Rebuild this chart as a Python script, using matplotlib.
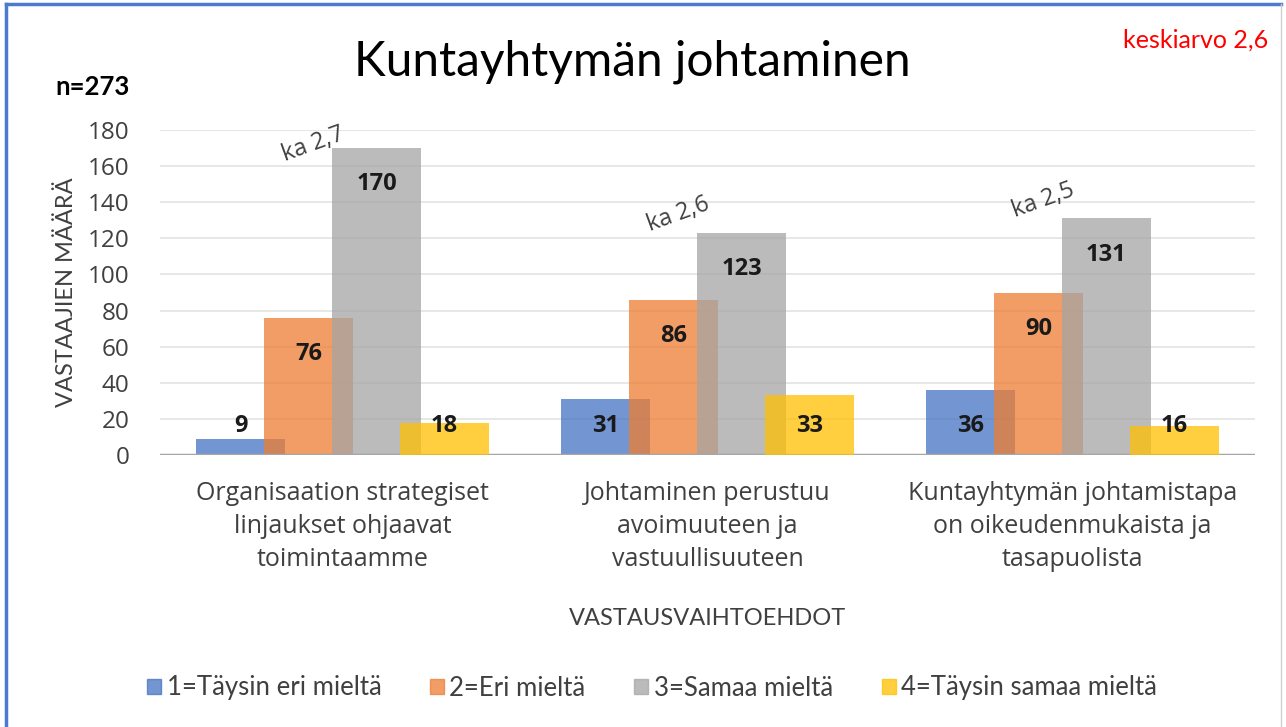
import matplotlib
matplotlib.use("Agg")
import matplotlib.pyplot as plt
import numpy as np
from matplotlib.patches import Rectangle
from matplotlib.lines import Line2D

categories = ["Organisaation strategiset\nlinjaukset ohjaavat\ntoimintaamme",
              "Johtaminen perustuu\navoimuuteen ja\nvastuullisuuteen",
              "Kuntayhtymän johtamistapa\non oikeudenmukaista ja\ntasapuolista"]
series_names = ["1=Täysin eri mieltä", "2=Eri mieltä", "3=Samaa mieltä", "4=Täysin samaa mieltä"]
s1 = [9, 31, 36]
s2 = [76, 86, 90]
s3 = [170, 123, 131]
s4 = [18, 33, 16]
averages = ["ka 2,7", "ka 2,6", "ka 2,5"]
yticks = [0, 20, 40, 60, 80, 100, 120, 140, 160, 180]
colors = ["#4472C4", "#ED7D31", "#A5A5A5", "#FFC000"]

CAL = ["Liberation Sans Narrow", "Lato", "DejaVu Sans"]
SEG = ["Open Sans", "DejaVu Sans"]

W, H = 1286, 727
fig = plt.figure(figsize=(W / 100, H / 100), dpi=100)
fig.patch.set_facecolor("white")

ax = fig.add_axes([160 / W, 1 - 455 / H, (1255 - 160) / W, (455 - 130) / H])
ax.set_xlim(-0.5, 2.5)
ax.set_ylim(0, 180)
for s in ax.spines.values():
    s.set_visible(False)
ax.set_yticks(yticks)
ax.set_yticklabels([str(v) for v in yticks], fontsize=17.5, color="#404040", family=SEG)
ax.tick_params(axis="y", length=0, pad=22)
ax.set_xticks(range(3))
ax.set_xticklabels(categories, fontsize=18, color="#404040", family=SEG, linespacing=1.42)
ax.tick_params(axis="x", length=0, pad=19)
ax.yaxis.grid(True, color="#E3E3E3", linewidth=1.2)
ax.set_axisbelow(True)
ax.axhline(0, color="#A6A6A6", linewidth=2.5, zorder=5)

data = [s1, s2, s3, s4]
step = 0.186
width = 0.244
x = np.arange(3)
for i, (vals, c) in enumerate(zip(data, colors)):
    ax.bar(x + (i - 1.5) * step, vals, width=width, color=c, alpha=0.75,
           label=series_names[i], zorder=2 + i)
for i, vals in enumerate(data):
    for j, v in enumerate(vals):
        ax.text(x[j] + (i - 1.5) * step, max(v - 20, 16), str(v), ha="center", va="center",
                fontsize=17, fontweight="bold", color="#1a1a1a", family=SEG, zorder=10)

# averages
for j, t in enumerate(averages):
    xpos = x[j] - 0.08
    ypos = min(max(s3[j], s2[j]) + 10, 172)
    ax.text(xpos, ypos, t, ha="center", va="center", rotation=20, fontsize=17,
            color="#404040", family=SEG, zorder=10, clip_on=False)

ax.set_ylabel("VASTAAJIEN MÄÄRÄ", fontsize=17, color="#404040", family=CAL, labelpad=8)
ax.set_xlabel("VASTAUSVAIHTOEHDOT", fontsize=17, color="#404040", family=CAL, labelpad=26)

fig.text(632 / W, 1 - 62 / H, "Kuntayhtymän johtaminen", ha="center", va="center",
         fontsize=34.5, color="black", family=CAL)
fig.text(55 / W, 1 - 87 / H, "n=273", ha="left", va="center", fontsize=18.5,
         fontweight="bold", color="black", family=CAL)
fig.text(1268 / W, 1 - 40 / H, "keskiarvo 2,6", ha="right", va="center", fontsize=18,
         color="#FF0000", family=CAL)

handles = [Rectangle((0, 0), 1, 1, color=c, alpha=0.75) for c in colors]
fig.legend(handles, series_names, loc="center", bbox_to_anchor=(652 / W, 1 - 688 / H),
           ncol=4, frameon=False, prop={"family": CAL, "size": 18.5}, handlelength=0.55,
           handleheight=0.55, handletextpad=0.2, columnspacing=1.9, labelcolor="#404040")

# border
fig.add_artist(Line2D([6 / W, 6 / W], [0, 1 - 4 / H], color="#4A7BD0", linewidth=2.5))
fig.add_artist(Line2D([6 / W, 1281 / W], [1 - 4 / H, 1 - 4 / H], color="#4A7BD0", linewidth=2.5))
fig.add_artist(Line2D([1281 / W, 1281 / W], [0, 1 - 4 / H], color="#D0D0D0", linewidth=1))

fig.savefig("out.png", dpi=100, facecolor="white")
